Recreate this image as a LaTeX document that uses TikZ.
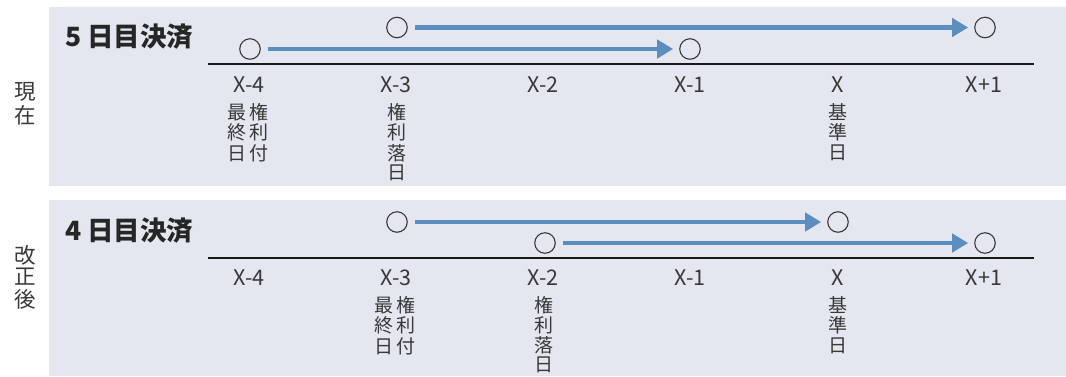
\documentclass[tikz,border=0pt]{standalone}
\usepackage{fontspec}
\setmainfont{Noto Sans CJK JP}
\usetikzlibrary{arrows.meta}
\definecolor{panel}{HTML}{E4E7EF}
\definecolor{arrowblue}{HTML}{5B8DBE}
\definecolor{txt}{HTML}{383838}
\begin{document}
\begin{tikzpicture}[x=1pt,y=-1pt,
  dot/.style={circle,draw=txt,line width=1.1pt,minimum size=20.5pt,inner sep=0pt},
  arr/.style={draw=arrowblue,line width=4.5pt,-{Triangle[length=16pt,width=18pt]},shorten <=7pt,shorten >=6pt},
  lbl/.style={text=txt,inner sep=0pt,font=\fontsize{19}{20}\selectfont},
  xl/.style={text=txt,inner sep=0pt,font=\fontsize{21.5}{22}\selectfont},
  side/.style={text=txt,inner sep=0pt,font=\fontsize{21.5}{23}\selectfont},
  ttl/.style={text=black!85,inner sep=0pt,anchor=west,font=\bfseries\fontsize{26.5}{27}\selectfont},
  axis/.style={draw=black!90,line width=1.3pt}]
\useasboundingbox (0,0) rectangle (1066,376);
% panels
\fill[panel] (49,7) rectangle (1066,186);
\fill[panel] (49,200) rectangle (1066,376);
% side labels
\node[side] (s1a) at (25,92) {現};
\node[side] (s1b) at (25,115) {在};
\node[side] (s2a) at (25,255) {改};
\node[side] (s2b) at (25,277) {正};
\node[side] (s2c) at (25,299) {後};
% titles
\node[ttl] (t1) at (65,37) {5 日目決済};
\node[ttl] (t2) at (65,231) {4 日目決済};
% axes
\coordinate (l1a) at (208,64); \coordinate (l1b) at (1034,64);
\draw[axis] (l1a) -- (l1b);
\coordinate (l2a) at (208,258); \coordinate (l2b) at (1034,258);
\draw[axis] (l2a) -- (l2b);
% tick labels
\foreach \n/\x/\t in {m4/249/X-4,m3/396/X-3,m2/543/X-2,m1/690/X-1,z/838/X,p1/984/X+1}{
  \node[xl] (u\n) at (\x,85) {\t};
  \node[xl] (v\n) at (\x,278) {\t};
}
% panel 1 vertical texts
\node[lbl] (a1r1) at (248,112) {最\hspace{3pt}権};
\node[lbl] (a1r2) at (248,132) {終\hspace{3pt}利};
\node[lbl] (a1r3) at (248,153) {日\hspace{3pt}付};
\node[lbl] (b1r1) at (397,112) {権};
\node[lbl] (b1r2) at (397,132) {利};
\node[lbl] (b1r3) at (397,153) {落};
\node[lbl] (b1r4) at (397,173) {日};
\node[lbl] (c1r1) at (838,112) {基};
\node[lbl] (c1r2) at (838,132) {準};
\node[lbl] (c1r3) at (838,153) {日};
% panel 2 vertical texts
\node[lbl] (a2r1) at (395,305) {最\hspace{3pt}権};
\node[lbl] (a2r2) at (395,325) {終\hspace{3pt}利};
\node[lbl] (a2r3) at (395,346) {日\hspace{3pt}付};
\node[lbl] (b2r1) at (544,305) {権};
\node[lbl] (b2r2) at (544,325) {利};
\node[lbl] (b2r3) at (544,345) {落};
\node[lbl] (b2r4) at (544,365) {日};
\node[lbl] (c2r1) at (838,305) {基};
\node[lbl] (c2r2) at (838,325) {準};
\node[lbl] (c2r3) at (838,346) {日};
% circles panel 1
\node[dot] (p1a) at (397,27.5) {};
\node[dot] (p1b) at (985,27.5) {};
\node[dot] (p1c) at (250,49) {};
\node[dot] (p1d) at (690,49) {};
% circles panel 2
\node[dot] (p2a) at (397,222) {};
\node[dot] (p2b) at (838,222) {};
\node[dot] (p2c) at (545,243) {};
\node[dot] (p2d) at (985,243) {};
% arrows
\draw[arr] (p1a) -- (p1b);
\draw[arr] (p1c) -- (p1d);
\draw[arr] (p2a) -- (p2b);
\draw[arr] (p2c) -- (p2d);
\end{tikzpicture}
\end{document}
